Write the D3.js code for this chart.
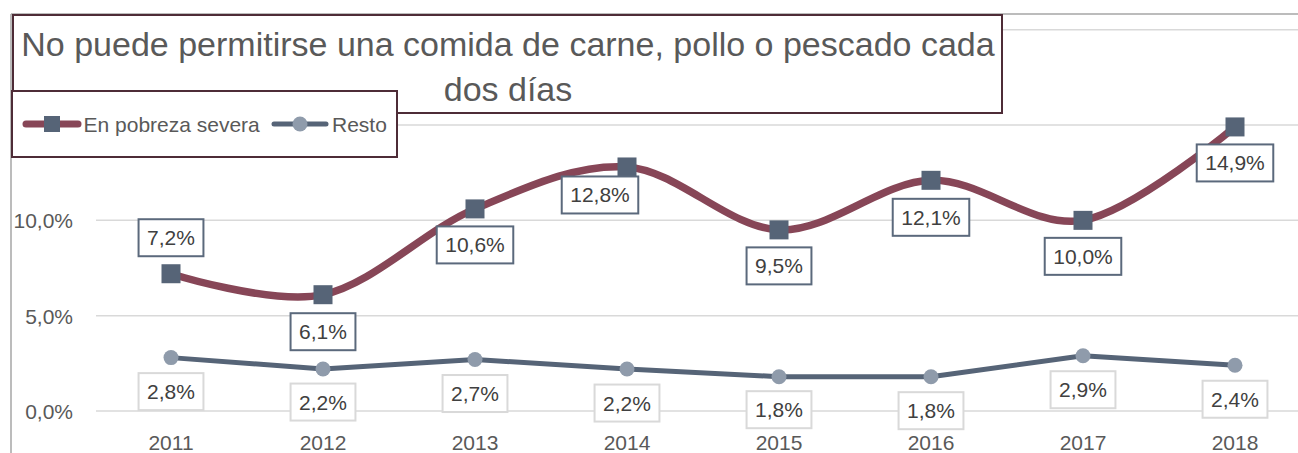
<!DOCTYPE html>
<html>
<head>
<meta charset="utf-8">
<script src="https://cdn.jsdelivr.net/npm/d3@7"></script>
<style>
  html, body { margin: 0; padding: 0; background: #fff; }
  svg { display: block; font-family: "Liberation Sans", Arial, sans-serif; }
</style>
</head>
<body>
<svg id="chart" width="1298" height="453"></svg>
<script>
// ---- data ----
const years = ["2011", "2012", "2013", "2014", "2015", "2016", "2017", "2018"];
const severa = [7.2, 6.1, 10.6, 12.8, 9.5, 12.1, 10.0, 14.9];
const resto = [2.8, 2.2, 2.7, 2.2, 1.8, 1.8, 2.9, 2.4];
const gridTicks = [0, 5, 10, 15, 20];
const yTickLabels = [0, 5, 10];
const seriesNames = ["En pobreza severa", "Resto"];
const titleLines = ["No puede permitirse una comida de carne, pollo o pescado cada", "dos días"];

// label placement (layout only)
const severaLabelDx = [0, 0, 0, -27, 0, 0, 0, 0];
const severaLabelDy = [-36, 37, 36, 28, 36, 37, 36, 36];
const restoLabelDy = [34, 33, 34, 34, 33, 34, 34, 34];

const fmt = v => v.toFixed(1).replace(".", ",") + "%";

const svg = d3.select("#chart");
const W = 1298, H = 453;

const x = d3.scaleBand().domain(years).range([95, 1311]);
const cx = d => x(d) + x.bandwidth() / 2;
const y = d3.scaleLinear().domain([0, 20]).range([411, 29.7]);

const textCol = "#595959";
const redCol = "#874657";
const slate = "#566477";
const lightMarker = "#8f9bab";
const FS = 21;

// outer chart border (top + left)
svg.append("line").attr("x1", 11).attr("x2", W).attr("y1", 14).attr("y2", 14)
  .attr("stroke", "#a6a6a6").attr("stroke-width", 1.5);
svg.append("line").attr("x1", 11).attr("x2", 11).attr("y1", 14).attr("y2", H)
  .attr("stroke", "#a6a6a6").attr("stroke-width", 1.5);

// gridlines
svg.append("g").selectAll("line").data(gridTicks).join("line")
  .attr("x1", 96).attr("x2", W)
  .attr("y1", d => y(d)).attr("y2", d => y(d))
  .attr("stroke", "#d9d9d9").attr("stroke-width", 1.5);

// y axis labels
const yAxis = d3.axisLeft(y).tickValues(yTickLabels).tickSize(0).tickPadding(0)
  .tickFormat(d => fmt(d));
const yg = svg.append("g").attr("transform", "translate(73,0)").call(yAxis);
yg.select(".domain").remove();
yg.selectAll("text").attr("font-size", FS).attr("fill", textCol)
  .attr("font-family", "Liberation Sans, Arial, sans-serif")
  .attr("dy", null).attr("y", 7.5);

// x axis labels
const xAxis = d3.axisBottom(x).tickSize(0).tickPadding(0);
const xg = svg.append("g").call(xAxis);
xg.select(".domain").remove();
xg.selectAll("text").attr("font-size", FS).attr("fill", textCol)
  .attr("font-family", "Liberation Sans, Arial, sans-serif")
  .attr("dy", null).attr("y", 449.5);

// lines
const lineSmooth = d3.line().x((d, i) => cx(years[i])).y(d => y(d)).curve(d3.curveCatmullRom.alpha(0));
const lineStraight = d3.line().x((d, i) => cx(years[i])).y(d => y(d));

svg.append("path").attr("d", lineSmooth(severa)).attr("fill", "none")
  .attr("stroke", redCol).attr("stroke-width", 7.5).attr("stroke-linecap", "round");
svg.append("path").attr("d", lineStraight(resto)).attr("fill", "none")
  .attr("stroke", slate).attr("stroke-width", 5).attr("stroke-linejoin", "round");

// markers
const ms = 19;
svg.append("g").selectAll("rect").data(severa).join("rect")
  .attr("x", (d, i) => cx(years[i]) - ms / 2).attr("y", d => y(d) - ms / 2)
  .attr("width", ms).attr("height", ms).attr("fill", slate);
svg.append("g").selectAll("circle").data(resto).join("circle")
  .attr("cx", (d, i) => cx(years[i])).attr("cy", d => y(d)).attr("r", 7.5)
  .attr("fill", lightMarker);

// data labels
function drawLabels(vals, dxArr, dyArr, border) {
  const g = svg.append("g");
  vals.forEach((v, i) => {
    const lx = cx(years[i]) + dxArr[i];
    const ly = y(v) + dyArr[i];
    const lg = g.append("g");
    const t = lg.append("text").attr("x", lx).attr("y", ly + 7.5)
      .attr("text-anchor", "middle").attr("font-size", FS).attr("fill", "#404040")
      .text(fmt(v));
    const w = t.node().getComputedTextLength();
    const bw = w + 17, bh = 37;
    lg.insert("rect", "text").attr("x", lx - bw / 2).attr("y", ly - bh / 2)
      .attr("width", bw).attr("height", bh).attr("fill", "#fff")
      .attr("stroke", border).attr("stroke-width", 2);
  });
}
drawLabels(severa, severaLabelDx, severaLabelDy, "#5b697c");
drawLabels(resto, resto.map(() => 0), restoLabelDy, "#d9d9d9");

// title box
svg.append("rect").attr("x", 13).attr("y", 15).attr("width", 989).attr("height", 98)
  .attr("fill", "#fff").attr("stroke", "#4e2c37").attr("stroke-width", 2);
svg.append("g").selectAll("text").data(titleLines).join("text")
  .attr("x", 508).attr("y", (d, i) => 56 + i * 45)
  .attr("text-anchor", "middle").attr("font-size", 34).attr("fill", textCol)
  .text(d => d);

// legend box
svg.append("rect").attr("x", 12).attr("y", 91).attr("width", 385).attr("height", 66)
  .attr("fill", "#fff").attr("stroke", "#4e2c37").attr("stroke-width", 2);
const lgY = 124;
// series 1
svg.append("line").attr("x1", 26).attr("x2", 78).attr("y1", lgY).attr("y2", lgY)
  .attr("stroke", redCol).attr("stroke-width", 7).attr("stroke-linecap", "round");
svg.append("rect").attr("x", 44).attr("y", lgY - 8).attr("width", 16).attr("height", 16).attr("fill", slate);
svg.append("text").attr("x", 83.5).attr("y", lgY + 7.5).attr("font-size", FS).attr("fill", textCol).text(seriesNames[0]);
// series 2
svg.append("line").attr("x1", 274).attr("x2", 326).attr("y1", lgY).attr("y2", lgY)
  .attr("stroke", slate).attr("stroke-width", 5).attr("stroke-linecap", "round");
svg.append("circle").attr("cx", 300).attr("cy", lgY).attr("r", 7.5).attr("fill", lightMarker);
svg.append("text").attr("x", 332).attr("y", lgY + 7.5).attr("font-size", FS).attr("fill", textCol).text(seriesNames[1]);
</script>
</body>
</html>
